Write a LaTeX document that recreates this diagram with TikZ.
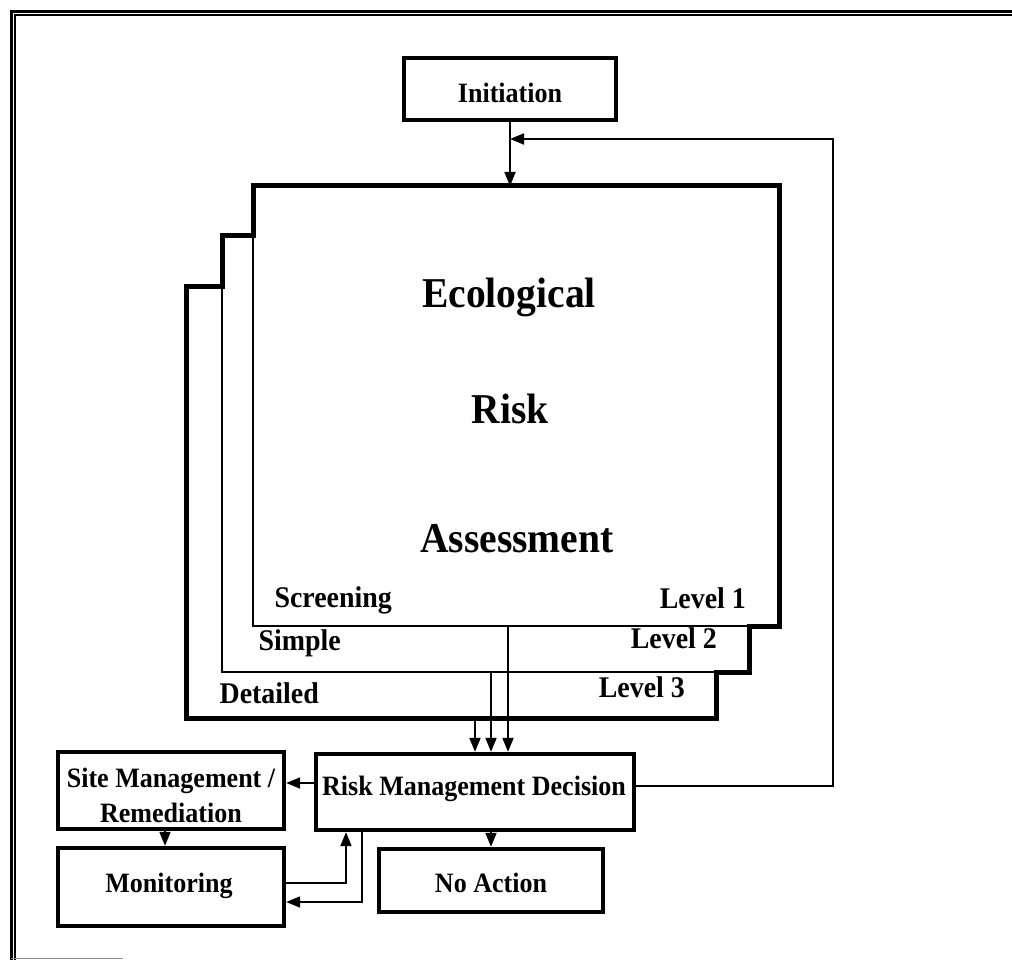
\documentclass[tikz,border=0pt]{standalone}
\usepackage{fontspec}
\setmainfont{Liberation Serif}[FakeStretch=0.93]
\usetikzlibrary{arrows.meta,calc}
\begin{document}
\begin{tikzpicture}[x=1pt,y=-1pt,
  box/.style={draw, line width=4.3pt, fill=white, inner sep=0pt},
  page/.style={draw, line width=1.6pt, fill=white, inner sep=0pt, outer sep=0pt},
  conn/.style={line width=1.8pt},
  arr/.style={conn, -{Triangle[length=14pt,width=11pt]}},
  boxtxt/.style={font=\fontsize{28}{30}\selectfont\bfseries, inner sep=0pt, anchor=base},
  lbl/.style={font=\fontsize{30}{32}\selectfont\bfseries, inner sep=0pt, anchor=base east},
  big/.style={font=\fontsize{42.5}{45}\selectfont\bfseries, inner sep=0pt, anchor=base}
]
\useasboundingbox (0,0) rectangle (1012,960);

% outer frame
\draw[line width=3pt] (11.5,960) -- (11.5,11.5) -- (1012,11.5);
\draw[line width=1.4pt] (15,960) -- (15,15) -- (1012,15);
\draw[black!45, line width=1pt] (11,958.5) -- (123,958.5);

% stacked assessment pages, back to front
\node[page, minimum width=530pt, minimum height=432pt] (p3) at (451,502) {};
\node[page, minimum width=527pt, minimum height=436pt] (p2) at (485.5,454) {};
\node[page, minimum width=526pt, minimum height=440pt] (p1) at (516,406) {};
% heavy outline round the stack
\draw[line width=5pt, line join=miter]
  (p3.south west) -- (p3.north west) -- (p3.north west -| p2.west)
  -- (p2.north west) -- (p2.north west -| p1.west) -- (p1.north west)
  -- (p1.north east) -- (p1.south east) -- (p1.south east -| p2.east)
  -- (p2.south east) -- (p2.south east -| p3.east) -- (p3.south east) -- cycle;

\node[big] (eco) at (509,307) {Ecological};
\node[big] (risk) at (510,423) {Risk};
\node[big] (ass) at (517,552) {Assessment};

\node[lbl] (scr) at (392,607) {Screening};
\node[lbl] (lv1) at (746,608) {Level 1};
\node[lbl] (sim) at (341,650) {Simple};
\node[lbl] (lv2) at (717,648) {Level 2};
\node[lbl] (det) at (319,703) {Detailed};
\node[lbl] (lv3) at (685,697) {Level 3};

% process boxes
\node[box, minimum width=212pt, minimum height=62pt] (init) at (510,89) {};
\node[boxtxt] (init-t) at (510,103) {Initiation};

\node[box, minimum width=318pt, minimum height=76pt] (rmd) at (475,792) {};
\node[boxtxt] (rmd-t) at (474,795) {Risk Management Decision};

\node[box, minimum width=226pt, minimum height=77pt] (site) at (171,790.5) {};
\node[boxtxt] (site-t1) at (171,787) {Site Management /};
\node[boxtxt] (site-t2) at (171,822) {Remediation};

\node[box, minimum width=226pt, minimum height=78pt] (mon) at (171,887) {};
\node[boxtxt] (mon-t) at (169,892) {Monitoring};

\node[box, minimum width=224pt, minimum height=63pt] (noact) at (491,880.5) {};
\node[boxtxt] (noact-t) at (491,892) {No Action};

% connectors
\coordinate (fb) at (833,139);
\draw[arr] (init.south) -- (init.south |- p1.north);
\draw[arr] (rmd.east |- 0,786) -| (fb) -- (init.south |- fb);

\draw[arr] (p1.south -| 508,0) -- (rmd.north -| 508,0);
\draw[arr] (p2.south -| 491,0) -- (rmd.north -| 491,0);
\draw[arr] (p3.south -| 475,0) -- (rmd.north -| 475,0);

\draw[arr] (rmd.west |- 0,783) -- (site.east |- 0,783);
\draw[arr] (site.south -| 165,0) -- (mon.north -| 165,0);
\draw[arr] (rmd.south -| noact.north) -- (noact.north);
\draw[arr] (mon.east |- 0,883) -| (rmd.south -| 346,0);
\draw[arr] (rmd.south -| 362,0) |- (mon.east |- 0,902);
\end{tikzpicture}
\end{document}
